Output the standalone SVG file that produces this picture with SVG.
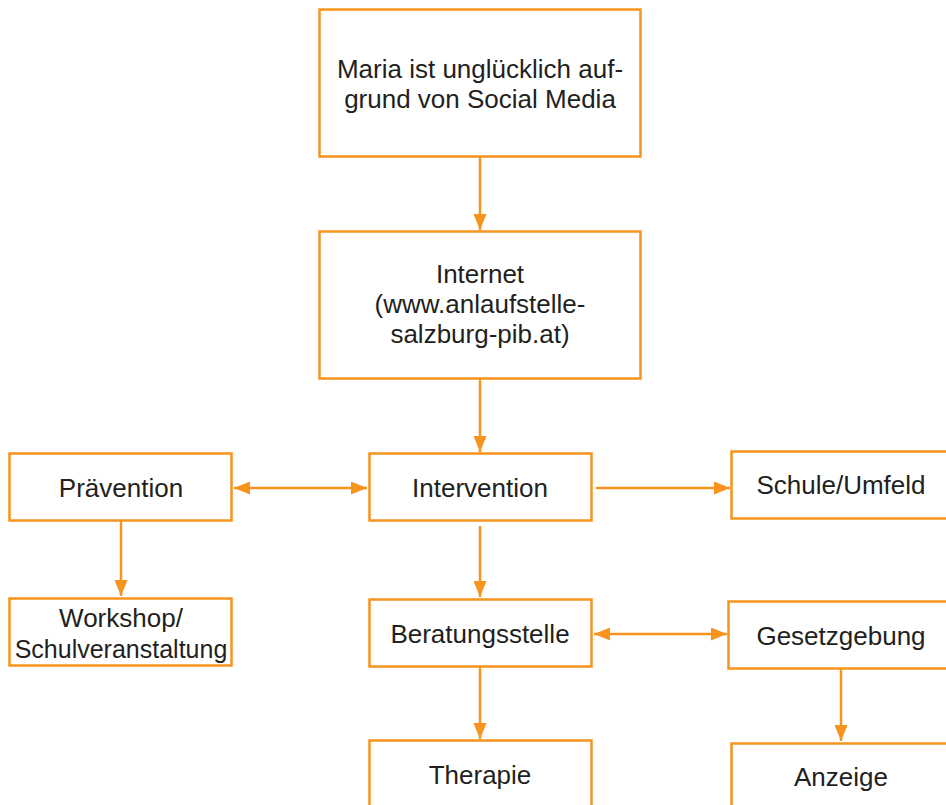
<svg xmlns="http://www.w3.org/2000/svg" width="946" height="805" viewBox="0 0 946 805">
<defs>
<marker id="ah" viewBox="0 0 16 13" refX="16" refY="6.5" markerWidth="16" markerHeight="13" markerUnits="userSpaceOnUse" orient="auto-start-reverse">
<path d="M0,0 L16,6.5 L0,13 Z" fill="#F7941D"/>
</marker>
<style>
.box{fill:#fff;stroke:#F7941D;stroke-width:2.5}
.t{font-family:"Liberation Sans",Arial,sans-serif;font-size:26px;fill:#231F20;text-anchor:middle}
.c{stroke:#F7941D;stroke-width:2.5;fill:none}
</style>
</defs>
<rect width="946" height="805" fill="#fff"/>
<g id="maria">
<rect class="box" x="319.5" y="9.5" width="321" height="147"/>
<text class="t" x="480" y="78">Maria ist unglücklich auf-</text>
<text class="t" x="480" y="108">grund von Social Media</text>
</g>
<g id="internet">
<rect class="box" x="319.5" y="231.5" width="321" height="147"/>
<text class="t" x="480" y="283">Internet</text>
<text class="t" x="480" y="313">(www.anlaufstelle-</text>
<text class="t" x="480" y="343">salzburg-pib.at)</text>
</g>
<g id="praevention">
<rect class="box" x="9.5" y="453.5" width="222" height="67"/>
<text class="t" x="121" y="497">Prävention</text>
</g>
<g id="intervention">
<rect class="box" x="369.5" y="453.5" width="222" height="67"/>
<text class="t" x="480" y="497">Intervention</text>
</g>
<g id="schule">
<rect class="box" x="731.5" y="451.5" width="222" height="67"/>
<text class="t" x="841" y="494">Schule/Umfeld</text>
</g>
<g id="workshop">
<rect class="box" x="9.5" y="598.5" width="222" height="67"/>
<text class="t" x="121" y="627">Workshop/</text>
<text class="t" x="121" y="658" style="font-size:25px">Schulveranstaltung</text>
</g>
<g id="beratung">
<rect class="box" x="369.5" y="599.5" width="222" height="67"/>
<text class="t" x="480" y="643">Beratungsstelle</text>
</g>
<g id="gesetz">
<rect class="box" x="728.5" y="601.5" width="222" height="67"/>
<text class="t" x="841" y="645">Gesetzgebung</text>
</g>
<g id="therapie">
<rect class="box" x="369.5" y="740.5" width="222" height="80"/>
<text class="t" x="480" y="784">Therapie</text>
</g>
<g id="anzeige">
<rect class="box" x="731.5" y="743.5" width="222" height="80"/>
<text class="t" x="841" y="786">Anzeige</text>
</g>
<g id="connectors">
<line class="c" x1="480" y1="157" x2="480" y2="230" marker-end="url(#ah)"/>
<line class="c" x1="480" y1="379" x2="480" y2="452" marker-end="url(#ah)"/>
<line class="c" x1="234" y1="488" x2="367" y2="488" marker-start="url(#ah)" marker-end="url(#ah)"/>
<line class="c" x1="596" y1="488" x2="730" y2="488" marker-end="url(#ah)"/>
<line class="c" x1="121" y1="521" x2="121" y2="596" marker-end="url(#ah)"/>
<line class="c" x1="480" y1="526" x2="480" y2="597" marker-end="url(#ah)"/>
<line class="c" x1="594" y1="634" x2="727" y2="634" marker-start="url(#ah)" marker-end="url(#ah)"/>
<line class="c" x1="480" y1="667" x2="480" y2="739" marker-end="url(#ah)"/>
<line class="c" x1="841" y1="669" x2="841" y2="741" marker-end="url(#ah)"/>
</g>
</svg>
